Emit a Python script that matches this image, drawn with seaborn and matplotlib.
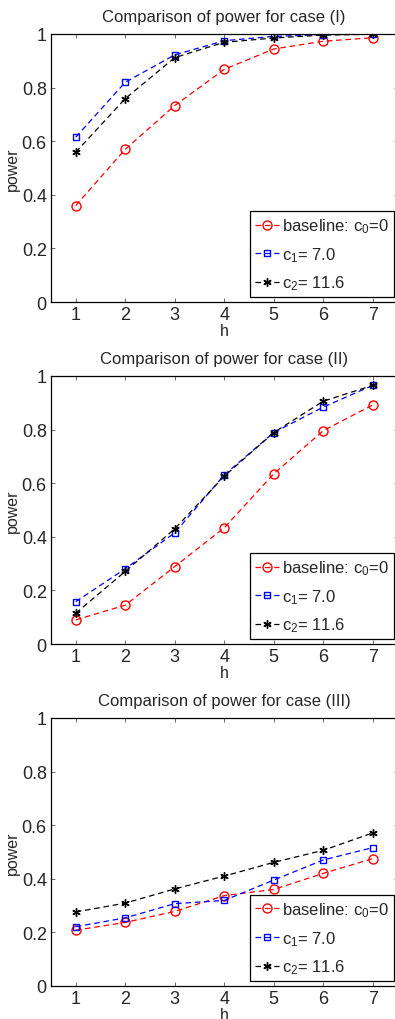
import seaborn as sns
import pandas as pd
import matplotlib
matplotlib.use("Agg")
import matplotlib.pyplot as plt

# datos
h = [1, 2, 3, 4, 5, 6, 7]

titulos = ["Comparison of power for case (I)",
           "Comparison of power for case (II)",
           "Comparison of power for case (III)"]

baseline_I = [0.360, 0.570, 0.733, 0.868, 0.944, 0.973, 0.986]
c1_I = [0.615, 0.820, 0.922, 0.975, 0.991, 0.998, 0.999]
c2_I = [0.559, 0.759, 0.912, 0.969, 0.985, 0.996, 0.999]

baseline_II = [0.090, 0.145, 0.289, 0.434, 0.635, 0.796, 0.892]
c1_II = [0.158, 0.281, 0.415, 0.631, 0.789, 0.884, 0.965]
c2_II = [0.115, 0.271, 0.430, 0.626, 0.789, 0.906, 0.965]

baseline_III = [0.208, 0.237, 0.278, 0.337, 0.360, 0.420, 0.475]
c1_III = [0.221, 0.254, 0.307, 0.319, 0.395, 0.470, 0.516]
c2_III = [0.276, 0.309, 0.362, 0.410, 0.461, 0.506, 0.571]

etiquetas = ["baseline: c$_0$=0", "c$_1$= 7.0", "c$_2$= 11.6"]

paneles = [
    [baseline_I, c1_I, c2_I],
    [baseline_II, c1_II, c2_II],
    [baseline_III, c1_III, c2_III],
]

# estilo de cada serie (asterisco tipo matlab)
estilos = [
    {"color": "#ff0000", "marker": "o", "markersize": 6.5},
    {"color": "#0000ff", "marker": "s", "markersize": 5},
    {"color": "#000000", "marker": (6, 2, 0), "markersize": 6},
]

sns.set_style("ticks")
plt.rcParams["font.family"] = ["Liberation Sans", "DejaVu Sans"]
plt.rcParams["mathtext.default"] = "regular"

fig = plt.figure(figsize=(3.95, 10.2), dpi=100)

# posiciones de los ejes (el borde derecho queda fuera de la imagen)
pos_y = [0.7029, 0.3676, 0.0324]
alto = 0.2628
izq = 51 / 395
ancho = 346.5 / 395

for i, series in enumerate(paneles):
    ax = fig.add_axes([izq, pos_y[i], ancho, alto])
    for serie, lab, est in zip(series, etiquetas, estilos):
        df = pd.DataFrame({"h": h, "power": serie})
        sns.lineplot(data=df, x="h", y="power", ax=ax, label=lab,
                     color=est["color"], marker=est["marker"],
                     markersize=est["markersize"],
                     markerfacecolor="none",
                     markeredgecolor=est["color"], markeredgewidth=1.0,
                     linewidth=0.9, linestyle=(0, (4.5, 3)))

    ax.set_xlim(0.5, 7.5)
    ax.set_ylim(0, 1)
    ax.set_xticks(h)
    ax.set_yticks([0, 0.2, 0.4, 0.6, 0.8, 1])
    ax.set_yticklabels(["0", "0.2", "0.4", "0.6", "0.8", "1"])
    ax.tick_params(direction="in", length=3, width=0.6, top=True, right=True,
                   labelsize=13, pad=3, color="#555555")
    for s in ax.spines.values():
        s.set_linewidth(0.9)
        s.set_color("black")
    ax.set_title(titulos[i], fontsize=12, pad=9)
    ax.set_xlabel("h", fontsize=11.5, labelpad=0)
    ax.set_ylabel("power", fontsize=11.5, labelpad=1)

    leg = ax.legend(loc="lower right", bbox_to_anchor=(0.99, 0.017),
                    fontsize=12, frameon=True, fancybox=False, framealpha=1,
                    edgecolor="black", handlelength=1.4, handletextpad=0.2,
                    labelspacing=0.6, borderpad=0.3, borderaxespad=0)
    leg.get_frame().set_linewidth(0.9)

plt.savefig("out.png", dpi=100)
